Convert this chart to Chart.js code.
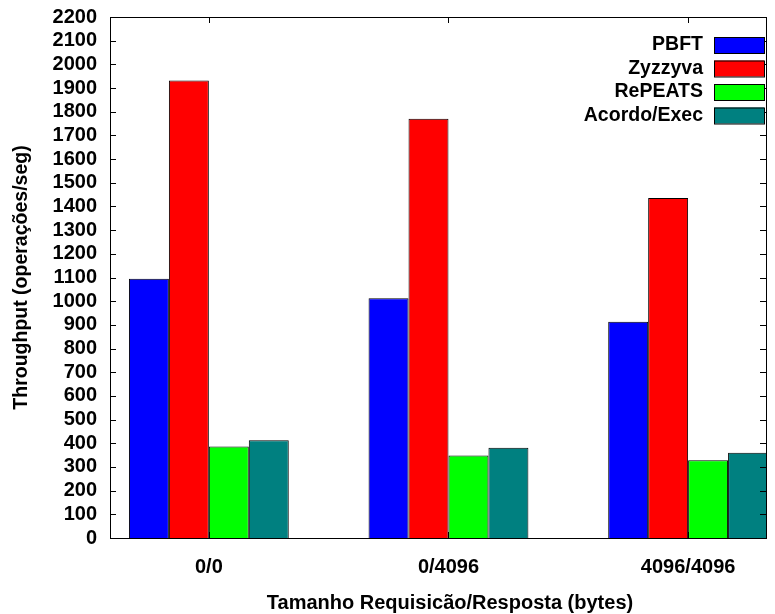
<!DOCTYPE html>
<html>
<head>
<meta charset="utf-8">
<script src="https://cdn.jsdelivr.net/npm/chart.js@4.4.1/dist/chart.umd.min.js"></script>
<style>
  html, body { margin: 0; padding: 0; background: #fff; }
  #wrap { width: 775px; height: 614px; }
</style>
</head>
<body>
<div id="wrap"><canvas id="barChart" width="775" height="614"></canvas></div>
<script>
// data
const categories = ["0/0", "0/4096", "4096/4096"];
const seriesNames = ["PBFT", "Zyzzyva", "RePEATS", "Acordo/Exec"];
const pbft = [1095, 1012, 913];
const zyzzyva = [1932, 1770, 1436];
const repeats = [386, 348, 328];
const acordoExec = [413, 381, 360];
const colors = ["#0000ff", "#ff0000", "#00ff00", "#008080"];
const yTicks = [0, 100, 200, 300, 400, 500, 600, 700, 800, 900, 1000, 1100,
    1200, 1300, 1400, 1500, 1600, 1700, 1800, 1900, 2000, 2100, 2200];
const xTitle = "Tamanho Requisicão/Resposta (bytes)";

const FONT = "'Liberation Sans', Arial, sans-serif";
const allSeries = [pbft, zyzzyva, repeats, acordoExec];

// gnuplot-style frame: border, inward ticks, legend inside the plot
const framePlugin = {
    id: "frame",
    afterDatasetsDraw(chart) {
        const { ctx, chartArea: a, scales } = chart;
        ctx.save();
        ctx.strokeStyle = "#000";
        ctx.lineWidth = 1;
        ctx.beginPath();
        yTicks.forEach(v => {
            const y = Math.round(scales.y.getPixelForValue(v)) + 0.5;
            ctx.moveTo(a.left, y); ctx.lineTo(a.left + 6, y);
            ctx.moveTo(a.right, y); ctx.lineTo(a.right - 6, y);
        });
        categories.forEach((c, i) => {
            const x = Math.round(scales.x.getPixelForValue(i)) + 0.5;
            ctx.moveTo(x, a.top); ctx.lineTo(x, a.top + 6);
            ctx.moveTo(x, a.bottom); ctx.lineTo(x, a.bottom - 6);
        });
        ctx.stroke();
        ctx.strokeRect(Math.round(a.left) + 0.5, Math.round(a.top) + 0.5,
            Math.round(a.right - a.left), Math.round(a.bottom - a.top));

        // legend
        ctx.font = "bold 19.5px " + FONT;
        ctx.textAlign = "right";
        ctx.textBaseline = "middle";
        seriesNames.forEach((name, i) => {
            const y = 45 + i * 23.5;
            ctx.fillStyle = "#000";
            ctx.fillText(name, 703, y);
            ctx.fillStyle = colors[i];
            ctx.fillRect(714, y - 8, 50, 16);
            ctx.strokeRect(714.5, y - 7.5, 50, 16);
        });

        // x axis title (gnuplot centres it a bit right of the plot centre)
        ctx.font = "bold 20px " + FONT;
        ctx.textAlign = "center";
        ctx.fillStyle = "#000";
        ctx.fillText(xTitle, 450, 603);
        ctx.restore();
    }
};

const chart = new Chart(document.getElementById("barChart").getContext("2d"), {
    type: "bar",
    data: {
        datasets: seriesNames.map((name, s) => ({
            label: name,
            data: allSeries[s].map((v, i) => ({ x: i, y: v })),
            backgroundColor: colors[s],
            borderColor: "#000",
            borderWidth: 1,
            borderSkipped: "bottom",
            categoryPercentage: 0.667,
            barPercentage: 1.0
        }))
    },
    options: {
        responsive: false,
        animation: false,
        layout: { padding: { top: 17, right: 9, left: 0, bottom: 0 } },
        plugins: {
            legend: { display: false },
            tooltip: { enabled: false }
        },
        scales: {
            x: {
                type: "linear",
                min: -0.4125,
                max: 2.325,
                offset: false,
                grid: { display: false, drawTicks: false },
                border: { display: false },
                afterBuildTicks(scale) {
                    scale.ticks = categories.map((c, i) => ({ value: i }));
                },
                afterFit(scale) {
                    scale.height = 76;
                    scale.paddingLeft = 0;
                    scale.paddingRight = 0;
                },
                ticks: {
                    padding: 17,
                    autoSkip: false,
                    maxRotation: 0,
                    color: "#000",
                    font: { family: FONT, size: 20, weight: "bold" },
                    callback: (v) => categories[v]
                }
            },
            y: {
                min: 0,
                max: 2200,
                grid: { display: false, drawTicks: false },
                border: { display: false },
                afterBuildTicks(scale) {
                    scale.ticks = yTicks.map(v => ({ value: v }));
                },
                afterFit(scale) {
                    scale.width = 110;
                    scale.paddingTop = 0;
                    scale.paddingBottom = 0;
                },
                ticks: {
                    padding: 13,
                    autoSkip: false,
                    color: "#000",
                    font: { family: FONT, size: 20, weight: "bold" },
                    callback: (v) => String(v)
                },
                title: {
                    display: true,
                    text: "Throughput (operações/seg)",
                    color: "#000",
                    font: { family: FONT, size: 19.5, weight: "bold" },
                    padding: { top: 10, bottom: 0 }
                }
            }
        }
    },
    plugins: [framePlugin]
});
</script>
</body>
</html>
